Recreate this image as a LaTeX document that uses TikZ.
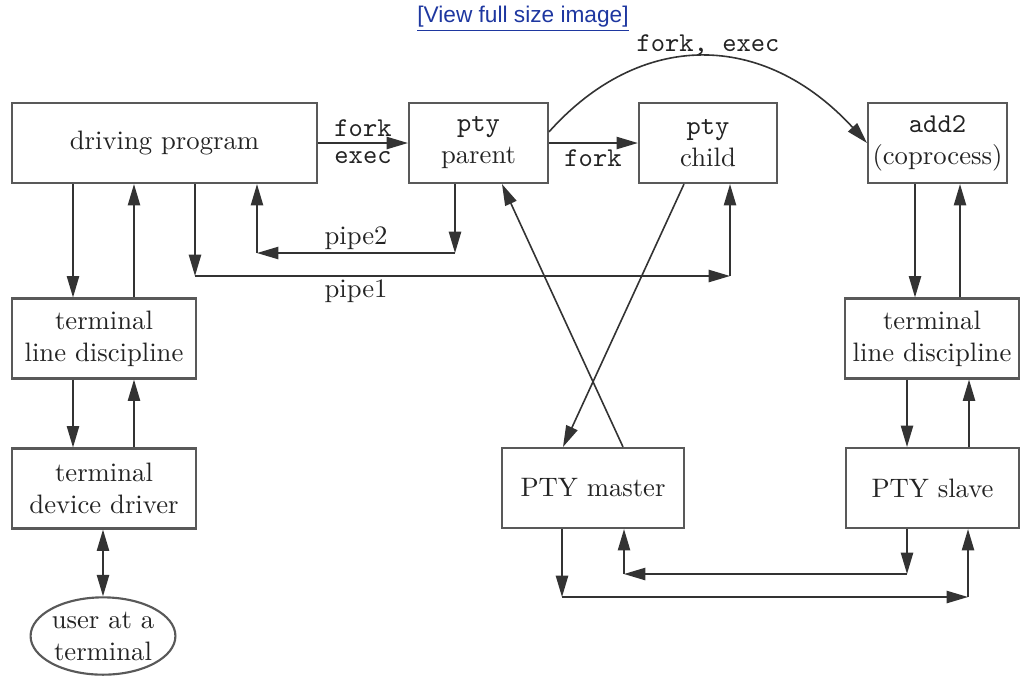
\documentclass[tikz,border=0pt]{standalone}
\usepackage{fontspec}
\newfontfamily\linkfont{Liberation Sans}
\usepackage{tikz}
\usetikzlibrary{shapes.geometric,arrows.meta}
\definecolor{linkblue}{RGB}{30,55,160}
\definecolor{inkgray}{RGB}{35,35,35}
\newcommand{\prog}[1]{{\fontsize{10.2}{12}\selectfont\ttfamily #1}}

\begin{document}
\begin{tikzpicture}[
  x=0.375pt, y=-0.375pt,
  font=\fontsize{10}{12}\selectfont,
  proc/.style={rectangle, draw=black!65, line width=0.8pt, text=inkgray,
               align=center, inner sep=0pt, minimum height=30pt},
  user/.style={ellipse, draw=black!65, line width=0.8pt, text=inkgray,
               align=center, inner sep=0pt, minimum width=52pt, minimum height=29pt},
  arr/.style={-{Triangle[length=8pt,width=4.6pt]}, line width=0.6pt, draw=black!80},
  dbl/.style={{Triangle[length=8pt,width=4.6pt]}-{Triangle[length=8pt,width=4.6pt]},
              line width=0.6pt, draw=black!80},
  lbl/.style={text=inkgray, inner sep=1pt}
]
\useasboundingbox (0,0) rectangle (1021,677);

\node[text=linkblue, font=\linkfont\fontsize{8.5}{10}\selectfont] (link) at (523,19)
  {\underline{[View full size image]}};

% processes on top
\node[proc, minimum width=114.4pt] (drv) at (164.5,143) {driving program};
\node[proc, minimum width=52.1pt] (par) at (478.5,143) {\prog{pty}\\parent};
\node[proc, minimum width=51.8pt] (chd) at (708,143) {\prog{pty}\\child};
\node[proc, minimum width=52.1pt] (cop) at (937.5,143) {\prog{add2}\\(coprocess)};

% user side
\node[proc, minimum width=69pt] (tld) at (104,338.5) {terminal\\line discipline};
\node[proc, minimum width=69pt] (tdd) at (104,488.5) {terminal\\device driver};
\node[user] (usr) at (103,636) {user at a\\terminal};

% pseudo terminal side
\node[proc, minimum width=65.3pt] (rld) at (932,338.5) {terminal\\line discipline};
\node[proc, minimum width=68.3pt] (mst) at (593,488) {PTY master};
\node[proc, minimum width=65pt] (slv) at (932.5,488) {PTY slave};

% fork and exec
\draw[arr] (drv) -- (par);
\node[lbl] (fk1) at (363,128) {\prog{fork}};
\node[lbl] (ex1) at (363,158) {\prog{exec}};
\draw[arr] (par) -- (chd);
\node[lbl] (fk2) at (593,158) {\prog{fork}};
\draw[arr] (par.9) .. controls (640,30) and (763,30) .. (cop.west);
\node[lbl] (fke) at (708,45) {\prog{fork, exec}};

% pipes
\coordinate (p2r) at (455,253);
\coordinate (p2l) at (257,253);
\draw[arr] (par.south -| p2r) -- (p2r);
\draw[arr] (p2r) -- (p2l);
\draw[arr] (p2l) -- (p2l |- drv.south);
\node[lbl] (pipe2) at (356,238) {pipe2};
\coordinate (p1l) at (195,276);
\coordinate (p1r) at (730,276);
\draw[arr] (drv.south -| p1l) -- (p1l);
\draw[arr] (p1l) -- (p1r);
\draw[arr] (p1r) -- (p1r |- chd.south);
\node[lbl] (pipe1) at (356,291) {pipe1};

% terminal
\draw[arr] (drv.south -| 73,0) -- (tld.north -| 73,0);
\draw[arr] (tld.north -| 134,0) -- (drv.south -| 134,0);
\draw[arr] (tld.south -| 73,0) -- (tdd.north -| 73,0);
\draw[arr] (tdd.north -| 134,0) -- (tld.south -| 134,0);
\draw[dbl] (usr.north |- tdd.south) -- (usr.north);

% coprocess
\draw[arr] (cop.south -| 915,0) -- (rld.north -| 915,0);
\draw[arr] (rld.north -| 960,0) -- (cop.south -| 960,0);
\draw[arr] (rld.south -| 907,0) -- (slv.north -| 907,0);
\draw[arr] (slv.north -| 969,0) -- (rld.south -| 969,0);

% master crossing
\draw[arr] (chd.south -| 684,0) -- (mst.north -| 563,0);
\draw[arr] (mst.north -| 623,0) -- (par.south -| 502,0);

% master and slave
\coordinate (m1) at (562,597);
\coordinate (s1) at (968,597);
\coordinate (s2) at (907,574);
\coordinate (m2) at (624,574);
\draw[arr] (mst.south -| m1) -- (m1);
\draw[arr] (m1) -- (s1);
\draw[arr] (s1) -- (s1 |- slv.south);
\draw[arr] (slv.south -| s2) -- (s2);
\draw[arr] (s2) -- (m2);
\draw[arr] (m2) -- (m2 |- mst.south);
\end{tikzpicture}
\end{document}
